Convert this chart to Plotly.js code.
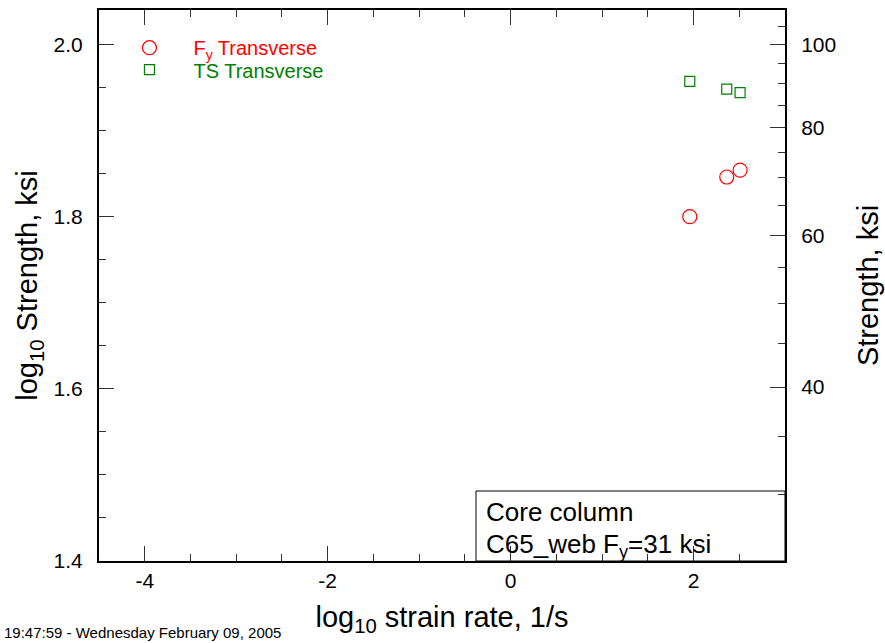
<!DOCTYPE html>
<html>
<head>
<meta charset="utf-8">
<script src="https://cdn.plot.ly/plotly-3.0.1.min.js"></script>
<style>
  html, body { margin: 0; padding: 0; background: #fff; }
  #chart { width: 885px; height: 643px; }
</style>
</head>
<body>
<div id="chart"></div>
<script>
// ---- data ----
const strainRate   = [1.959, 2.363, 2.509];      // log10 strain rate, 1/s
const fyTransverse = [1.800, 1.846, 1.854];      // log10 Fy, ksi
const tsTransverse = [1.957, 1.948, 1.944];      // log10 TS, ksi

const seriesNames  = ['F<sub>y</sub> Transverse', 'TS Transverse'];
const seriesColors = ['#ff0000', '#008000'];

const leftTickVals   = [1.4, 1.6, 1.8, 2.0];
const leftTickText   = ['1.4', '1.6', '1.8', '2.0'];
const bottomTickVals = [-4, -2, 0, 2];
const bottomTickText = ['-4', '-2', '0', '2'];
const rightTickVals  = [40, 60, 80, 100];
const rightTickText  = ['40', '60', '80', '100'];
const rightMinorVals = [30, 35, 40, 45, 50, 55, 60, 65, 70, 75, 80, 85, 90, 95, 100, 105];

const boxLines  = ['Core column', 'C65_web F<sub>y</sub>=31 ksi'];
const stampText = '19:47:59 - Wednesday February 09, 2005';

const FONT = 'Liberation Sans, Arial, Helvetica, sans-serif';
const TICKC = '#333';

const traces = [
  {
    x: strainRate, y: fyTransverse, type: 'scatter', mode: 'markers',
    name: '<span style="color:' + seriesColors[0] + '">' + seriesNames[0] + '</span>',
    legend: 'legend',
    marker: { symbol: 'circle-open', size: 14, color: seriesColors[0], line: { width: 1.2, color: seriesColors[0] } },
    cliponaxis: false
  },
  {
    x: strainRate, y: tsTransverse, type: 'scatter', mode: 'markers',
    name: '<span style="color:' + seriesColors[1] + '">' + seriesNames[1] + '</span>',
    legend: 'legend2',
    marker: { symbol: 'square-open', size: 10, color: seriesColors[1], line: { width: 1.2, color: seriesColors[1] } },
    cliponaxis: false
  },
  { x: [], y: [], yaxis: 'y2', type: 'scatter', mode: 'markers', showlegend: false, hoverinfo: 'skip' }
];

const legendBase = {
  xanchor: 'left', yanchor: 'top',
  bgcolor: 'rgba(0,0,0,0)', borderwidth: 0,
  font: { family: FONT, size: 20 },
  itemwidth: 78
};

const layout = {
  width: 885, height: 643,
  margin: { l: 99, r: 100, t: 10, b: 82, pad: 0 },
  paper_bgcolor: '#fff', plot_bgcolor: '#fff',
  font: { family: FONT, color: '#000', size: 21 },
  showlegend: true,
  legend:  Object.assign({}, legendBase, { x: 0.0094, y: 0.967 }),
  legend2: Object.assign({}, legendBase, { x: 0.0094, y: 0.927 }),
  xaxis: {
    range: [-4.5, 3.0], showgrid: false, zeroline: false,
    showline: true, linecolor: '#000', linewidth: 2, mirror: 'ticks',
    ticks: 'inside', ticklen: 15, tickwidth: 1, tickcolor: TICKC,
    tickmode: 'array', tickvals: bottomTickVals, ticktext: bottomTickText,
    minor: { dtick: 0.5, tick0: 0, ticks: 'inside', ticklen: 7, tickwidth: 1, tickcolor: TICKC },
    tickfont: { size: 21 },
    title: { text: 'log<sub>10</sub> strain rate, 1/s', font: { size: 29 }, standoff: 15 },
    automargin: false
  },
  yaxis: {
    range: [1.4, 2.04], showgrid: false, zeroline: false,
    showline: true, linecolor: '#000', linewidth: 2, mirror: false,
    ticks: 'inside', ticklen: 15, tickwidth: 1, tickcolor: TICKC,
    tickmode: 'array', tickvals: leftTickVals, ticktext: leftTickText,
    minor: { dtick: 0.05, tick0: 0, ticks: 'inside', ticklen: 7, tickwidth: 1, tickcolor: TICKC },
    tickfont: { size: 21 }, ticklabelstandoff: 10,
    title: { text: 'log<sub>10</sub> Strength, ksi', font: { size: 29 }, standoff: 7 },
    automargin: false
  },
  yaxis2: {
    type: 'log', overlaying: 'y', side: 'right', anchor: 'x',
    range: [1.4, 2.04], showgrid: false, zeroline: false,
    showline: true, linecolor: '#000', linewidth: 2,
    ticks: 'inside', ticklen: 15, tickwidth: 1, tickcolor: TICKC,
    tickmode: 'array', tickvals: rightTickVals, ticktext: rightTickText,
    minor: { tickmode: 'array', tickvals: rightMinorVals, ticks: 'inside', ticklen: 7, tickwidth: 1, tickcolor: TICKC },
    tickfont: { size: 21 }, ticklabelstandoff: 10,
    title: { text: 'Strength, ksi', font: { size: 29 }, standoff: 22 },
    automargin: false
  },
  shapes: [
    {
      type: 'rect', xref: 'paper', yref: 'paper',
      x0: (476 - 99) / 686, x1: 1, y0: 0, y1: (561 - 491) / 551,
      line: { color: '#000', width: 1 }, fillcolor: 'rgba(0,0,0,0)', layer: 'above'
    }
  ],
  annotations: [
    {
      xref: 'paper', yref: 'paper', x: (484 - 99) / 686, y: (561 - 512) / 551,
      xanchor: 'left', yanchor: 'middle',
      text: boxLines[0], showarrow: false, align: 'left',
      font: { family: FONT, size: 26, color: '#000' }
    },
    {
      xref: 'paper', yref: 'paper', x: (484 - 99) / 686, y: (561 - 545) / 551,
      xanchor: 'left', yanchor: 'middle',
      text: boxLines[1], showarrow: false, align: 'left',
      font: { family: FONT, size: 26, color: '#000' }
    },
    {
      xref: 'paper', yref: 'paper', x: -99 / 686, y: -82 / 551, xanchor: 'left', yanchor: 'bottom',
      text: stampText, showarrow: false, align: 'left',
      font: { family: FONT, size: 15, color: '#000' }, yshift: 0, xshift: 2
    }
  ]
};

Plotly.newPlot('chart', traces, layout, { staticPlot: true, displayModeBar: false });
</script>
</body>
</html>
